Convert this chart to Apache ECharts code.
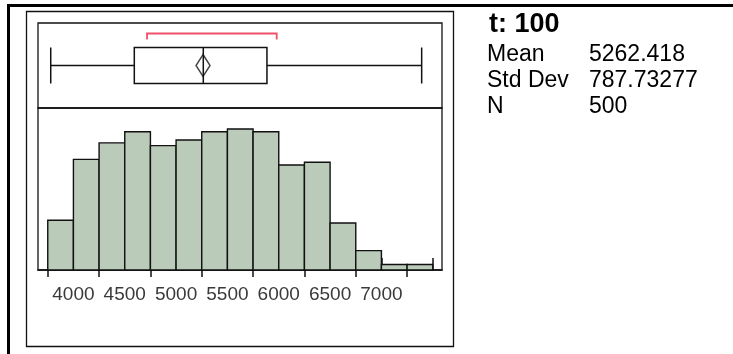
<!DOCTYPE html>
<html>
<head>
<meta charset="utf-8">
<script src="https://cdn.jsdelivr.net/npm/echarts@6/dist/echarts.min.js"></script>
<style>
  html, body { margin: 0; padding: 0; background: #fff; }
  #chart { width: 733px; height: 354px; }
</style>
</head>
<body>
<div id="chart"></div>
<script>
// Histogram bins (lower edge, upper edge) and counts
const binStarts = [3750, 4000, 4250, 4500, 4750, 5000, 5250, 5500, 5750, 6000, 6250, 6500, 6750, 7000, 7250];
const binEnds   = [4000, 4250, 4500, 4750, 5000, 5250, 5500, 5750, 6000, 6250, 6500, 6750, 7000, 7250, 7500];
const counts    = [18, 40, 46, 50, 45, 47, 50, 51, 50, 38, 39, 17, 7, 2, 2];

// Box plot summary: min whisker, Q1, median, Q3, max whisker
const boxStats = [3779, 4593, 5265, 5885, 7392];
const meanValue = 5262.418;
// Shortest half interval (bracket above the box)
const shortestHalf = [4717, 5980];

// Axis tick labels
const labelValues = [4000, 4500, 5000, 5500, 6000, 6500, 7000];
const minorTickValues = [3750, 4250, 4750, 5250, 5750, 6250, 6750, 7250];
const majorTickValues = [4000, 4500, 5000, 5500, 6000, 6500, 7000, 7500];

// Summary statistics panel
const statTitle = 't: 100';
const statNames = ['Mean', 'Std Dev', 'N'];
const statValues = ['5262.418', '787.73277', '500'];

const X_MIN = 3655, X_MAX = 7590;
const FONT = '"Liberation Sans", Arial, sans-serif';

const chart = echarts.init(document.getElementById('chart'), null, { renderer: 'canvas' });

const histData = binStarts.map((s, i) => [s, binEnds[i], counts[i]]);

const statGraphics = [
  { type: 'text', left: 489, top: 11, style: { text: statTitle, font: 'bold 27px ' + FONT, fill: '#000' } }
];
const rowY = [55, 81, 107];
statNames.forEach((name, i) => {
  statGraphics.push({ type: 'text', x: 487, y: rowY[i],
    style: { text: name, font: '23px ' + FONT, fill: '#000', verticalAlign: 'middle' } });
  statGraphics.push({ type: 'text', x: 589, y: rowY[i],
    style: { text: statValues[i], font: '23px ' + FONT, fill: '#000', verticalAlign: 'middle' } });
});

const option = {
  animation: false,
  backgroundColor: '#fff',
  grid: [
    { left: 38, right: 291, top: 23, height: 85, show: true, borderColor: '#111', borderWidth: 1.3, backgroundColor: 'transparent' },
    { left: 38, right: 291, top: 108, height: 162, show: true, borderColor: '#111', borderWidth: 1.3, backgroundColor: 'transparent' }
  ],
  xAxis: [
    { type: 'value', gridIndex: 0, min: X_MIN, max: X_MAX, show: false },
    { type: 'value', gridIndex: 1, min: X_MIN, max: X_MAX,
      splitLine: { show: false },
      axisLine: { show: true, onZero: false, lineStyle: { color: '#111', width: 1.5 } },
      axisTick: { show: true, length: 7, customValues: minorTickValues, lineStyle: { color: '#111', width: 1.5 } },
      axisLabel: { show: true, customValues: labelValues, margin: 15, fontSize: 19, fontFamily: FONT, color: '#3a3a3a',
        formatter: function (v) { return String(v); } }
    },
    { type: 'value', gridIndex: 1, min: X_MIN, max: X_MAX,
      splitLine: { show: false },
      axisLine: { show: false },
      axisTick: { show: true, length: 12, customValues: majorTickValues, lineStyle: { color: '#111', width: 1.5 } },
      axisLabel: { show: false }
    }
  ],
  yAxis: [
    { type: 'category', gridIndex: 0, data: ['t'], show: false },
    { type: 'value', gridIndex: 1, min: 0, max: 58.6, show: false }
  ],
  series: [
    {
      type: 'boxplot',
      xAxisIndex: 0, yAxisIndex: 0,
      boxWidth: [36, 36],
      itemStyle: { color: '#fff', borderColor: '#111', borderWidth: 1.5 },
      data: [boxStats]
    },
    {
      type: 'scatter',
      xAxisIndex: 0, yAxisIndex: 0,
      symbol: 'diamond',
      symbolSize: [14, 22],
      itemStyle: { color: 'rgba(255,255,255,0)', borderColor: '#111', borderWidth: 1.5 },
      data: [[meanValue, 't']],
      z: 5
    },
    {
      type: 'custom',
      xAxisIndex: 0, yAxisIndex: 0,
      data: [[shortestHalf[0], shortestHalf[1]]],
      renderItem: function (params, api) {
        const a = api.coord([api.value(0), 0]);
        const b = api.coord([api.value(1), 0]);
        const top = a[1] - 32;
        return {
          type: 'polyline',
          shape: { points: [[a[0], top + 6], [a[0], top], [b[0], top], [b[0], top + 6]] },
          style: { stroke: '#f0506a', lineWidth: 1.8, fill: null }
        };
      }
    },
    {
      type: 'custom',
      xAxisIndex: 1, yAxisIndex: 1,
      data: histData,
      renderItem: function (params, api) {
        const p0 = api.coord([api.value(0), 0]);
        const p1 = api.coord([api.value(1), api.value(2)]);
        return {
          type: 'rect',
          shape: { x: p0[0], y: p1[1], width: p1[0] - p0[0], height: p0[1] - p1[1] },
          style: { fill: '#bacbba', stroke: '#111', lineWidth: 1.4 }
        };
      }
    }
  ],
  graphic: [
    { type: 'line', shape: { x1: 7, y1: 5.5, x2: 733, y2: 5.5 }, style: { stroke: '#000', lineWidth: 3 } },
    { type: 'line', shape: { x1: 8.5, y1: 4, x2: 8.5, y2: 354 }, style: { stroke: '#000', lineWidth: 3 } },
    { type: 'rect', shape: { x: 26.5, y: 11.5, width: 427, height: 335 }, style: { stroke: '#111', lineWidth: 1.3, fill: null } }
  ].concat(statGraphics)
};

chart.setOption(option);
</script>
</body>
</html>
